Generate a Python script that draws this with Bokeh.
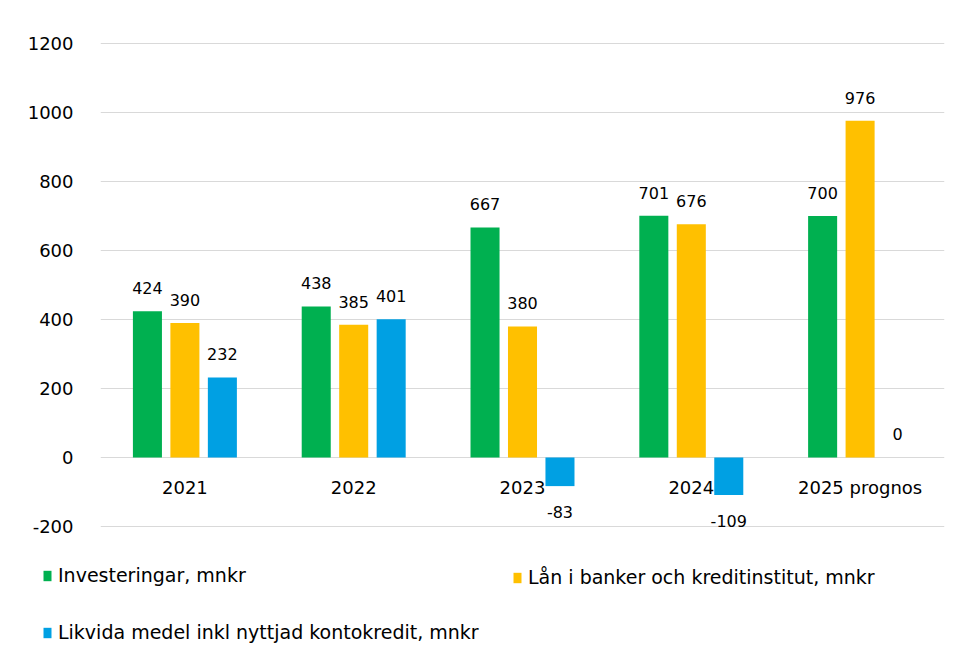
from bokeh.plotting import figure
from bokeh.models import ColumnDataSource, FixedTicker, Legend, LegendItem, FactorRange
from bokeh.transform import dodge
from bokeh.core.properties import value
from bokeh.embed import file_html
from bokeh.resources import INLINE

# ---- data ----
categories = ["2021", "2022", "2023", "2024", "2025 prognos"]
investeringar = [424, 438, 667, 701, 700]
lan = [390, 385, 380, 676, 976]
likvida = [232, 401, -83, -109, 0]
series_names = ["Investeringar, mnkr",
                "Lån i banker och kreditinstitut, mnkr",
                "Likvida medel inkl nyttjad kontokredit, mnkr"]
y_ticks = [-200, 0, 200, 400, 600, 800, 1000, 1200]

colors = ["#00B050", "#FFC000", "#00A0E3"]
offsets = [-0.222, 0.0, 0.222]
FONT = "DejaVu Sans"
W = 955

p = figure(x_range=categories, y_range=(-203, 1209),
           width=W, height=545, output_backend="svg", toolbar_location=None,
           min_border_left=100, min_border_right=11, min_border_top=40,
           min_border_bottom=18)
p.outline_line_color = None
p.xaxis.visible = False
p.xgrid.grid_line_color = None
p.ygrid.grid_line_color = "#d9d9d9"
p.ygrid.grid_line_width = 1
p.yaxis.ticker = FixedTicker(ticks=y_ticks)
p.yaxis.major_label_overrides = {t: str(t) for t in y_ticks}
p.yaxis.axis_line_color = None
p.yaxis.major_tick_line_color = None
p.yaxis.minor_tick_line_color = None
p.yaxis.major_label_standoff = 21
p.yaxis.major_label_text_font = FONT
p.yaxis.major_label_text_font_size = "18px"
p.yaxis.major_label_text_color = "#000000"

sources = []
for vals, col, off in zip([investeringar, lan, likvida], colors, offsets):
    src = ColumnDataSource(dict(
        cat=categories,
        top=vals,
        bottom=[0] * len(vals),
        label=[str(v) for v in vals],
        yoff=[-23 if v >= 0 else 26 for v in vals],
    ))
    sources.append(src)
    p.vbar(x=dodge("cat", off, range=p.x_range), top="top", bottom="bottom",
           width=0.172, fill_color=col, line_color=None, source=src)
    p.text(x=dodge("cat", off, range=p.x_range), y="top", text="label",
           y_offset="yoff", text_align="center", text_baseline="middle",
           text_font=value(FONT), text_font_size="16px", text_color="#000000",
           source=src)

# category labels at the zero line
cat_src = ColumnDataSource(dict(cat=categories, y=[0] * len(categories)))
p.text(x="cat", y="y", text="cat", source=cat_src, y_offset=30,
       text_align="center", text_baseline="middle",
       text_font=value(FONT), text_font_size="18px", text_color="#000000")

# ---- legend strip below the chart (separate root so its frame spans the width) ----
lg = figure(width=W, height=118, output_backend="svg", toolbar_location=None,
            x_range=FactorRange(*categories), y_range=(5000, 5001),
            min_border_left=0, min_border_right=0, min_border_top=0,
            min_border_bottom=0)
lg.outline_line_color = None
lg.axis.visible = False
lg.grid.visible = False
leg_renderers = []
for src, col in zip(sources, colors):
    # same series, out of this strip's view; used only for the legend swatches
    r = lg.vbar(x="cat", top="top", bottom="bottom", width=0.172,
                fill_color=col, line_color=None, source=src)
    leg_renderers.append(r)

def make_legend(items, loc):
    return Legend(items=items, location=loc, orientation="vertical",
                  spacing=35, padding=0, margin=0,
                  glyph_width=10, glyph_height=13, label_standoff=6,
                  label_height=20,
                  label_text_font=FONT, label_text_font_size="19px",
                  label_text_color="#000000",
                  border_line_color=None, background_fill_alpha=0)

leg1 = make_legend([LegendItem(label=series_names[0], renderers=[leg_renderers[0]]),
                    LegendItem(label=series_names[2], renderers=[leg_renderers[2]])],
                   (42, 20))
leg2 = make_legend([LegendItem(label=series_names[1], renderers=[leg_renderers[1]])],
                   (512, 75))
lg.add_layout(leg1, "center")
lg.add_layout(leg2, "center")

open("out.html", "w").write(file_html([p, lg], INLINE))
